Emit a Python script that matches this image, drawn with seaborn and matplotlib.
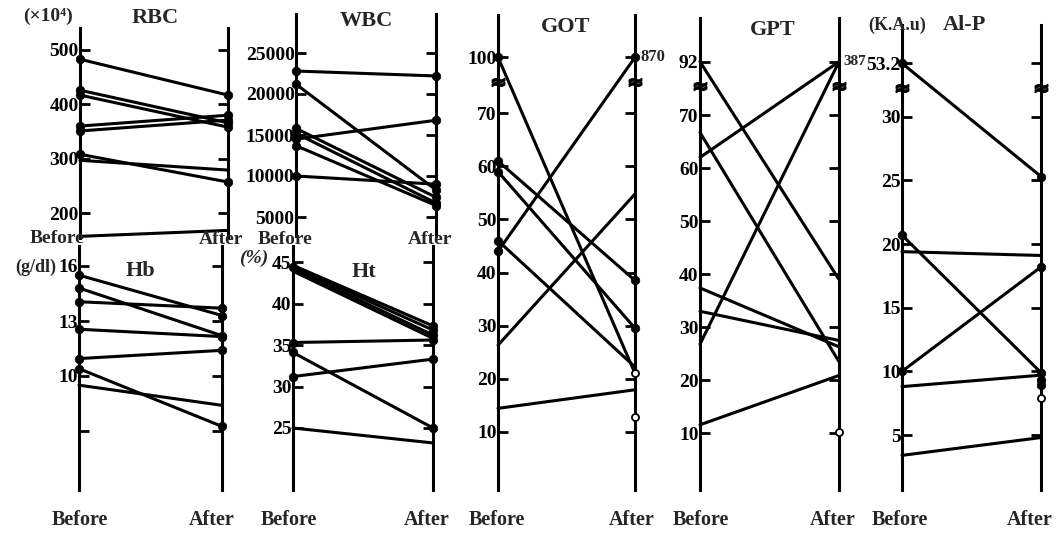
import numpy as np
import pandas as pd
import matplotlib
matplotlib.use("Agg")
import matplotlib.pyplot as plt
import seaborn as sns

# ---------------- data ----------------
RBC_before = [483, 426, 417, 360, 351, 308, 297, 157]
RBC_after = [417, 366, 358, 380, 371, 257, 279, 168]
RBC_dots_before = [483, 426, 417, 360, 351, 308]
RBC_dots_after = [417, 366, 358, 380, 371, 257]
RBC_ticks = [500, 400, 300, 200]

Hb_before = [15.5, 14.8, 14.05, 12.55, 10.95, 10.4, 9.5]
Hb_after = [13.3, 12.2, 13.7, 12.15, 11.4, 7.25, 8.4]
Hb_dots_before = [15.5, 14.8, 14.05, 12.55, 10.95, 10.4]
Hb_dots_after = [13.3, 12.2, 13.7, 12.15, 11.4, 7.25]
Hb_ticks = [16, 13, 10, 7]
Hb_ticklabels = ["16", "13", "10", ""]

WBC_before = [22800, 21200, 15800, 15200, 14500, 13700, 10000]
WBC_after = [22200, 8300, 7400, 6700, 16800, 6400, 9000]
WBC_dots_before = [22800, 21200, 15800, 15200, 14500, 13700, 10000]
WBC_dots_after = [22200, 8300, 7400, 6700, 16800, 6400, 9000]
WBC_ticks = [25000, 20000, 15000, 10000, 5000]

Ht_before = [44.6, 44.4, 44.2, 43.9, 35.3, 34.1, 31.2, 25.0]
Ht_after = [37.3, 36.8, 36.2, 35.8, 35.6, 25.0, 33.3, 23.2]
Ht_dots_before = [44.4, 35.3, 34.1, 31.2]
Ht_dots_after = [37.3, 36.8, 36.2, 35.6, 25.0, 33.3]
Ht_ticks = [45, 40, 35, 30, 25]

GOT_before = [100, 61, 59, 46, 44, 26.3, 14.4]
GOT_after = [21.0, 38.5, 29.5, 22.2, 870, 54.8, 17.9]
GOT_dots_before = [100, 61, 59, 46, 44]
GOT_dots_after = [38.5, 29.5, 870]
GOT_open_after = [21.0, 12.8]
GOT_ticks = [100, 70, 60, 50, 40, 30, 20, 10]
GOT_top_label = "870"

GPT_before = [92, 66.7, 62.0, 37.4, 33.0, 26.8, 11.6]
GPT_after = [39.0, 23.5, 387, 26.3, 27.5, 387, 20.9]
GPT_open_after = [10.2]
GPT_ticks = [92, 70, 60, 50, 40, 30, 20, 10]
GPT_top_label = "387"

AlP_before = [53.2, 20.7, 19.4, 10.0, 8.8, 3.4]
AlP_after = [25.3, 9.9, 19.1, 18.2, 9.7, 4.8]
AlP_dots_before = [53.2, 20.7, 10.0]
AlP_dots_after = [25.3, 9.9, 18.2, 9.3, 8.9]
AlP_open_after = [7.9]
AlP_ticks = [53.2, 30, 25, 20, 15, 10, 5]

# ---------------- style / layout ----------------
sns.set_style("white")
plt.rcParams["font.family"] = ["Liberation Serif", "DejaVu Serif"]
plt.rcParams["font.weight"] = "bold"

W, H = 1063, 536
fig = plt.figure(figsize=(W / 100, H / 100), dpi=100)
LW = 2.2
TICKSIZE = 14


def fx(x):
    return x / W


def fy(y):
    return 1 - y / H


def panel(xb, xa, ytop, ybot, cal):
    (v1, p1), (v2, p2) = cal
    k = (v1 - v2) / (p2 - p1)

    def val(y):
        return v1 + (p1 - y) * k

    ax = fig.add_axes([fx(xb), fy(ybot), (xa - xb) / W, (ybot - ytop) / H])
    ax.patch.set_alpha(0)
    ax._lims = (0, 1, val(ybot), val(ytop))
    return ax, val


def finish(ax, ticks, labels=None):
    x0, x1, y0, y1 = ax._lims
    ax.set_xlim(x0, x1)
    ax.set_ylim(y0, y1)
    for s in ["top", "bottom"]:
        ax.spines[s].set_visible(False)
    for s in ["left", "right"]:
        ax.spines[s].set_linewidth(LW)
        ax.spines[s].set_color("black")
    ax.set_xticks([])
    ax.set_xlabel("")
    ax.set_ylabel("")
    ax.set_yticks(ticks)
    if labels is None:
        labels = [str(t) for t in ticks]
    ax.set_yticklabels(labels)
    ax.tick_params(axis="y", direction="in", length=7, width=2, left=True,
                   right=True, labelleft=True, labelright=False, pad=1,
                   labelsize=TICKSIZE, colors="black")
    for t in ax.get_yticklabels():
        t.set_fontweight("bold")


def draw(ax, before, after, disp=lambda v: np.asarray(v, float),
         dots_b=(), dots_a=(), open_a=()):
    b = disp(before)
    a = disp(after)
    n = len(b)
    df = pd.DataFrame({
        "id": np.r_[np.arange(n), np.arange(n)],
        "time": np.r_[np.zeros(n), np.ones(n)],
        "value": np.r_[b, a],
    })
    sns.lineplot(data=df, x="time", y="value", units="id", estimator=None,
                 color="black", linewidth=LW, ax=ax, legend=False,
                 clip_on=False)
    if len(dots_b):
        sns.scatterplot(x=np.zeros(len(dots_b)), y=disp(dots_b), ax=ax,
                        color="black", s=38, edgecolor="black", linewidth=0.5,
                        zorder=4, clip_on=False, legend=False)
    if len(dots_a):
        sns.scatterplot(x=np.ones(len(dots_a)), y=disp(dots_a), ax=ax,
                        color="black", s=38, edgecolor="black", linewidth=0.5,
                        zorder=4, clip_on=False, legend=False)
    if len(open_a):
        sns.scatterplot(x=np.ones(len(open_a)), y=disp(open_a), ax=ax,
                        color="white", s=26, edgecolor="black", linewidth=1.3,
                        zorder=5, clip_on=False, legend=False)


def broken(brk, top):
    return lambda v: np.where(np.asarray(v, float) > brk, top, np.asarray(v, float))


def breakmark(ax, y):
    ax.plot([0, 1], [y, y], ls="none", marker=r"$\approx$", ms=9,
            color="black", clip_on=False, zorder=6)


# RBC
ax, val = panel(80, 228, 28, 238, ((500, 50), (200, 213)))
draw(ax, RBC_before, RBC_after, dots_b=RBC_dots_before, dots_a=RBC_dots_after)
finish(ax, RBC_ticks)

# Hb
ax, val = panel(79, 222, 246, 490, ((16, 266), (10, 376)))
draw(ax, Hb_before, Hb_after, dots_b=Hb_dots_before, dots_a=Hb_dots_after)
finish(ax, Hb_ticks, Hb_ticklabels)

# WBC
ax, val = panel(296, 436, 14, 236, ((25000, 53), (5000, 217)))
draw(ax, WBC_before, WBC_after, dots_b=WBC_dots_before, dots_a=WBC_dots_after)
finish(ax, WBC_ticks)

# Ht
ax, val = panel(293, 433, 246, 490, ((45, 262), (25, 428)))
draw(ax, Ht_before, Ht_after, dots_b=Ht_dots_before, dots_a=Ht_dots_after)
finish(ax, Ht_ticks)

# GOT
ax, val = panel(498, 635, 15, 490, ((70, 113.3), (10, 431.7)))
disp = broken(val(81.7), val(57.3))
draw(ax, GOT_before, GOT_after, disp=disp, dots_b=GOT_dots_before,
     dots_a=GOT_dots_after, open_a=GOT_open_after)
finish(ax, list(disp(GOT_ticks)), [str(t) for t in GOT_ticks])
breakmark(ax, val(81.7))
ax.text(1.04, val(57.3), GOT_top_label, transform=ax.get_yaxis_transform(),
        ha="left", va="center", fontsize=12, fontweight="bold")

# GPT
ax, val = panel(700, 839, 18, 490, ((70, 115), (10, 433.3)))
disp = broken(val(86), val(61.7))
draw(ax, GPT_before, GPT_after, disp=disp, open_a=GPT_open_after)
finish(ax, list(disp(GPT_ticks)), [str(t) for t in GPT_ticks])
breakmark(ax, val(86))
ax.text(1.03, val(61.7), GPT_top_label, transform=ax.get_yaxis_transform(),
        ha="left", va="center", fontsize=11, fontweight="bold")

# Al-P
ax, val = panel(902, 1041, 25, 490, ((30, 116.7), (5, 435)))
disp = broken(val(88.3), val(63.3))
draw(ax, AlP_before, AlP_after, disp=disp, dots_b=AlP_dots_before,
     dots_a=AlP_dots_after, open_a=AlP_open_after)
finish(ax, list(disp(AlP_ticks)), [str(t) for t in AlP_ticks])
breakmark(ax, val(88.3))

# ---------------- texts ----------------
def ftext(x, y, s, size=14, ha="center", **kw):
    fig.text(fx(x), fy(y), s, ha=ha, va="center", fontsize=size,
             fontweight="bold", **kw)


ftext(48, 16, "(×10⁴)", 14)
ftext(155, 18, "RBC", 16)
ftext(366, 21, "WBC", 16)
ftext(566, 27, "GOT", 16)
ftext(773, 30, "GPT", 16)
ftext(897, 25, "(K.A.u)", 13)
ftext(964, 25, "Al-P", 16)
ftext(56, 267, "(g/dl)", 13, ha="right")
ftext(140, 271, "Hb", 16)
ftext(268, 258, "(%)", 14, ha="right", style="italic")
ftext(364, 272, "Ht", 16)

# middle Before/After labels
ftext(84, 239, "Before", 14, ha="right")
ftext(221, 240, "After", 14)
ftext(285, 240, "Before", 14)
ftext(430, 240, "After", 14)

# bottom labels
for x, s in [(80, "Before"), (212, "After"), (289, "Before"), (427, "After"),
             (497, "Before"), (632, "After"), (701, "Before"), (833, "After"),
             (900, "Before"), (1030, "After")]:
    ftext(x, 520, s, 14.5)

fig.savefig("out.png", dpi=100)
